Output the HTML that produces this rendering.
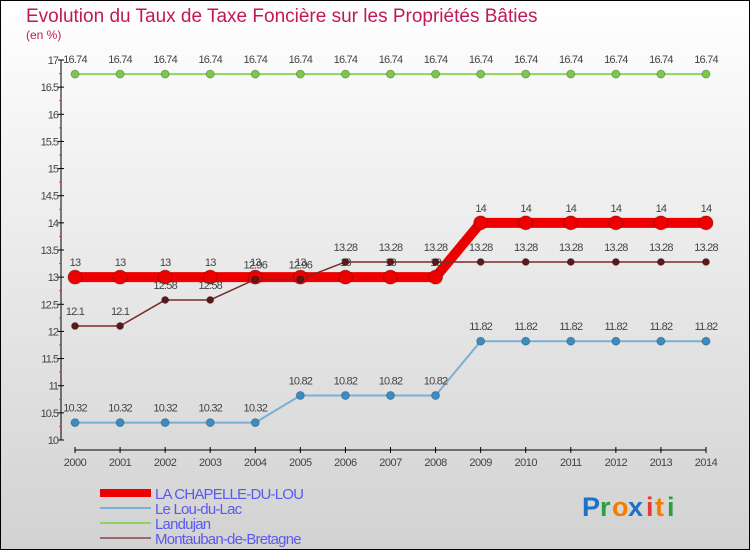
<!DOCTYPE html>
<html><head><meta charset="utf-8"><style>
html,body{margin:0;padding:0}
body{width:750px;height:550px;overflow:hidden;font-family:"Liberation Sans",sans-serif}
#wrap{position:absolute;left:0;top:0;width:748px;height:548px;border:1px solid #000;background:linear-gradient(#ffffff,#d2d2d2)}
</style></head><body>
<div id="wrap">
<svg id="chart" width="748" height="548" viewBox="1 1 748 548" xmlns="http://www.w3.org/2000/svg">
<text x="26" y="22" font-size="19" fill="#c2185b">Evolution du Taux de Taxe Foncière sur les Propriétés Bâties</text>
<text x="26" y="39" font-size="12" fill="#c2185b">(en %)</text>
<g id="axes"></g>
<g id="series"></g>
<g id="legend"></g>
<g font-size="27" font-weight="bold">
<text x="582" y="516" fill="#1a73c8">P</text><text x="600" y="516" fill="#2e9e3e">r</text><text x="612" y="516" fill="#f57c00">o</text><text x="628" y="516" fill="#1a73c8">x</text><text x="646" y="516" fill="#e53935">i</text><text x="655" y="516" fill="#f57c00">t</text><text x="667" y="516" fill="#2e9e3e">i</text>
</g>
</svg>
</div>
<script>
const years=[2000,2001,2002,2003,2004,2005,2006,2007,2008,2009,2010,2011,2012,2013,2014];
const yTicks=[10,10.5,11,11.5,12,12.5,13,13.5,14,14.5,15,15.5,16,16.5,17];
const chapelle=[13,13,13,13,13,13,13,13,13,14,14,14,14,14,14];
const louDuLac=[10.32,10.32,10.32,10.32,10.32,10.82,10.82,10.82,10.82,11.82,11.82,11.82,11.82,11.82,11.82];
const landujan=[16.74,16.74,16.74,16.74,16.74,16.74,16.74,16.74,16.74,16.74,16.74,16.74,16.74,16.74,16.74];
const montauban=[12.1,12.1,12.58,12.58,12.96,12.96,13.28,13.28,13.28,13.28,13.28,13.28,13.28,13.28,13.28];
const legendNames=["LA CHAPELLE-DU-LOU","Le Lou-du-Lac","Landujan","Montauban-de-Bretagne"];

const NS="http://www.w3.org/2000/svg";
const xs=i=>75+i*(706-75)/(years.length-1);
const ys=v=>440-(v-10)*(380/7);
function mk(tag,attrs,parent,txt){const e=document.createElementNS(NS,tag);for(const k in attrs)e.setAttribute(k,attrs[k]);if(txt!==undefined)e.textContent=txt;parent.appendChild(e);return e;}
const axes=document.getElementById('axes'),series=document.getElementById('series'),legend=document.getElementById('legend');
let e=mk('line',{x1:61,y1:60,x2:61,y2:440,stroke:'#000'},axes);


yTicks.forEach((t,i)=>{
  const y=ys(t);
  mk('line',{x1:58,y1:y,x2:64,y2:y,stroke:'#000'},axes);
  if(i<yTicks.length-1) mk('line',{x1:59,y1:y-380/28,x2:62,y2:y-380/28,stroke:'#e33'},axes);
  e=mk('text',{x:58,y:y+4,'font-size':11,'text-anchor':'end',fill:'#444','letter-spacing':'-1'},axes,String(t));
  
  
});
e=mk('line',{x1:75,y1:450,x2:706,y2:450,stroke:'#000'},axes);


years.forEach((yr,i)=>{
  const x=xs(i);
  mk('line',{x1:x,y1:447,x2:x,y2:453,stroke:'#000'},axes);
  e=mk('text',{x:x,y:466,'font-size':11,'text-anchor':'middle',fill:'#444','letter-spacing':'-0.5'},axes,String(yr));
  
  
});
function drawSeries(vals,color,lw,r,name,dotColor){
  const g=mk('g',{},series);
  
  
  mk('polyline',{points:vals.map((v,i)=>xs(i)+','+ys(v)).join(' '),fill:'none',stroke:color,'stroke-width':lw,'stroke-linejoin':'round'},g);
  vals.forEach((v,i)=>{
    const c=mk('circle',{cx:xs(i),cy:ys(v),r:r,fill:dotColor,stroke:'rgba(0,0,0,0.25)','stroke-width':1},g);
    
    
    const t=mk('text',{x:xs(i),y:ys(v)-11,'font-size':11,'text-anchor':'middle',fill:'#444','letter-spacing':'-0.8'},g,String(v));
    
    
  });
}
drawSeries(landujan,'#8ed462',2,4,'landujan-series','#7cc84a');
drawSeries(louDuLac,'#7ab0d4',2,4,'lou-du-lac-series','#3a8cc4');
drawSeries(chapelle,'#ee0000',10,7,'la-chapelle-du-lou-series','#ee0000');
drawSeries(montauban,'#7a2a2a',1.5,3.5,'montauban-series','#5a1a1a');
const lcol=['#ee0000','#7ab0d4','#8ed462','#9a6a6a'],lw=[8,2,2,2];
legendNames.forEach((n,i)=>{
  const y=493+i*15;
  const g=mk('g',{},legend);
  
  
  mk('line',{x1:100,y1:y,x2:151,y2:y,stroke:lcol[i],'stroke-width':lw[i]},g);
  mk('text',{x:155,y:y+6,'font-size':15,fill:'#5a5af0','letter-spacing':'-0.8'},g,n);
});
</script>
</body></html>
